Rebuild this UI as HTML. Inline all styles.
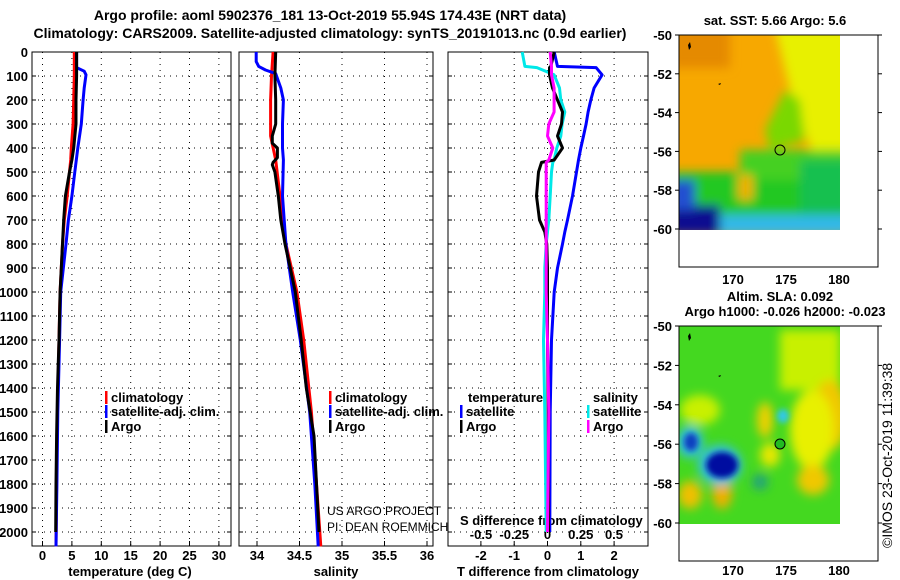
<!DOCTYPE html>
<html><head><meta charset="utf-8">
<style>
html,body{margin:0;padding:0;background:#fff;}
svg{display:block;font-family:"Liberation Sans",sans-serif;}
.b{font-weight:bold;font-size:13px;}
</style></head>
<body>
<svg id="chart" width="900" height="580" viewBox="0 0 900 580" xmlns="http://www.w3.org/2000/svg">
<defs>
<filter id="bl" x="-20%" y="-20%" width="140%" height="140%"><feGaussianBlur stdDeviation="5"/></filter>
<filter id="bl2" x="-20%" y="-20%" width="140%" height="140%"><feGaussianBlur stdDeviation="3"/></filter>
<clipPath id="c1"><rect x="679" y="35" width="161" height="195"/></clipPath>
<clipPath id="c2"><rect x="679" y="326" width="161" height="198"/></clipPath>
</defs>
<text class="b" x="330" y="20" text-anchor="middle" style="font-size:14px">Argo profile: aoml 5902376_181 13-Oct-2019 55.94S 174.43E (NRT data)</text>
<text class="b" x="330" y="38" text-anchor="middle" style="font-size:14px">Climatology: CARS2009. Satellite-adjusted climatology: synTS_20191013.nc (0.9d earlier)</text>
<g id="panels"></g>

<g>
<text class="b" x="775" y="25" text-anchor="middle">sat. SST: 5.66 Argo: 5.6</text>
<g clip-path="url(#c1)">
<rect x="679" y="35" width="161" height="195" fill="#f7a800"/>
<g filter="url(#bl)">
<rect x="670" y="28" width="60" height="40" fill="#e58a00"/>
<polygon points="775,28 850,28 850,165 815,160 800,120 790,90" fill="#e8f000"/>
<polygon points="785,90 800,100 805,140 770,150 765,130" fill="#7ad800"/>
<rect x="670" y="172" width="180" height="50" fill="#22c822"/>
<rect x="740" y="150" width="110" height="30" fill="#44d020"/>
<rect x="800" y="160" width="50" height="60" fill="#18c050"/>
<rect x="670" y="205" width="50" height="30" fill="#101090"/>
<rect x="720" y="215" width="130" height="20" fill="#30b8e8"/>
<rect x="670" y="180" width="25" height="30" fill="#2050d0"/>
<rect x="738" y="175" width="15" height="25" fill="#f0b000"/>
</g>
</g>
<rect x="679" y="35" width="199" height="232" fill="none" stroke="#000"/>
<circle cx="780" cy="150" r="5" fill="none" stroke="#000"/>
<path d="M688,45 l2,-3 l1,5 l-2,3z M718,84 l3,-1 l-1,2z" fill="#000"/>
</g>

<g>
<text class="b" x="780" y="301" text-anchor="middle">Altim. SLA: 0.092</text>
<text class="b" x="785" y="316" text-anchor="middle">Argo h1000: -0.026 h2000: -0.023</text>
<g clip-path="url(#c2)">
<rect x="679" y="326" width="161" height="198" fill="#44d820"/>
<g filter="url(#bl)">
<rect x="780" y="330" width="60" height="60" fill="#c8f000"/>
<ellipse cx="830" cy="415" rx="18" ry="35" fill="#f0c800"/>
<ellipse cx="812" cy="430" rx="22" ry="40" fill="#e8f000"/>
<ellipse cx="765" cy="420" rx="8" ry="18" fill="#f0d000"/>
<ellipse cx="770" cy="455" rx="10" ry="12" fill="#e8e800"/>
<ellipse cx="700" cy="410" rx="20" ry="15" fill="#c8f000"/>
<ellipse cx="690" cy="495" rx="12" ry="14" fill="#f0c000"/>
<ellipse cx="722" cy="493" rx="10" ry="16" fill="#f0b000"/>
<ellipse cx="813" cy="480" rx="16" ry="15" fill="#f0c800"/>
<ellipse cx="720" cy="465" rx="22" ry="20" fill="#30c0e0"/>
<ellipse cx="690" cy="442" rx="13" ry="16" fill="#30c0e0"/>
<ellipse cx="760" cy="482" rx="8" ry="8" fill="#20a080"/>
</g>
<g filter="url(#bl2)">
<ellipse cx="722" cy="465" rx="16" ry="13" fill="#0010a0"/>
<ellipse cx="691" cy="442" rx="7" ry="9" fill="#1040c0"/>
<ellipse cx="783" cy="416" rx="6" ry="7" fill="#30c8e8"/>
</g>
</g>
<rect x="679" y="326" width="199" height="235" fill="none" stroke="#000"/>
<circle cx="780" cy="444" r="5" fill="#22bb22" stroke="#000"/>
<path d="M688,336 l2,-3 l1,5 l-2,3z M718,376 l3,-1 l-1,2z" fill="#000"/>
</g>
<text x="892" y="548" transform="rotate(-90 892 548)" font-size="14">©IMOS 23-Oct-2019 11:39:38</text>
<g id="mapaxes"></g>
</svg>

<script>
// ---- data ----
const depthTicks=[0,100,200,300,400,500,600,700,800,900,1000,1100,1200,1300,1400,1500,1600,1700,1800,1900,2000];
const tTicks=[0,5,10,15,20,25,30];
const sTicks=[34,34.5,35,35.5,36];
const tdTicks=[-2,-1,0,1,2];
const sdTicks=[-0.5,-0.25,0,0.25,0.5];
const sdTickLabels=["-0.5","-0.25","0","0.25","0.5"];

const argoTdepth=[0,100,200,300,400,450,500,600,700,800,1000,1200,1400,1600,1800,2000];
const argoT=[5.8,5.8,5.7,5.7,5.3,5.0,4.6,3.9,3.6,3.4,3.0,2.8,2.55,2.4,2.3,2.25];
const climTdepth=[0,100,200,300,400,450,500,600,700,800,1000,1200,1500,1800,2060];
const climT=[5.4,5.4,5.3,5.2,4.9,4.8,4.6,4.2,3.7,3.4,3.0,2.8,2.55,2.4,2.3];
const satTdepth=[0,65,80,95,150,200,300,400,500,600,700,800,1000,1200,1500,1800,2060];
const satT=[5.8,5.8,7.1,7.4,7.1,6.9,6.6,6.0,5.5,5.0,4.4,4.0,3.1,2.9,2.6,2.45,2.3];

const argoSdepth=[0,100,200,300,350,380,400,440,460,470,500,600,700,800,900,1000,1200,1400,1600,1800,2000];
const argoS=[34.22,34.21,34.22,34.22,34.18,34.18,34.24,34.24,34.19,34.18,34.21,34.25,34.28,34.33,34.39,34.45,34.52,34.58,34.67,34.7,34.73];
const climSdepth=[0,100,200,300,350,450,600,800,1000,1200,1500,1800,2060];
const climS=[34.19,34.17,34.16,34.16,34.16,34.22,34.27,34.34,34.47,34.55,34.64,34.7,34.75];
const satSdepth=[0,40,60,75,90,150,200,300,400,450,600,700,800,1000,1200,1500,1800,2060];
const satS=[33.99,33.99,34.02,34.1,34.22,34.28,34.31,34.3,34.3,34.31,34.3,34.32,34.34,34.42,34.51,34.62,34.68,34.72];

const diffDepth=[0,60,65,95,150,200,250,300,350,400,450,460,500,600,700,750,800,900,1000,1200,1500,2000];
const argoTdiff=[0.2,0.1,0.06,0.06,0.15,0.3,0.45,0.42,0.3,0.45,0.2,-0.18,-0.27,-0.33,-0.24,-0.08,-0.02,0,0,0,0.02,0.03];
const satTdiff=[0.2,0.3,1.46,1.64,1.4,1.3,1.22,1.16,1.08,1.0,0.93,0.92,0.87,0.75,0.6,0.52,0.45,0.3,0.2,0.12,0.08,0.07];
const satSdiff=[-0.19,-0.17,-0.08,0.05,0.09,0.1,0.13,0.11,0.1,0.07,0.05,0.04,0.03,0.02,0.01,0,-0.01,-0.02,-0.02,-0.03,-0.02,-0.01];
const argoSdiff=[0.02,0.03,0.03,0.03,0.05,0.05,0.05,0.01,0,0.04,0.01,-0.01,-0.01,-0.01,-0.01,-0.01,-0.01,-0.01,-0.01,0,0.01,0];

const latTicks=[-50,-52,-54,-56,-58,-60];
const lonTicks=[170,175,180];

// ---- axes ----
const NS="http://www.w3.org/2000/svg";
const yD=d=>52+d*0.24;
const xT=v=>42.5+v*5.88;
const xS=v=>257+(v-34)*85;
const xTD=v=>547.5+v*33.3;
const xSD=v=>547.5+v*133;
const P=document.getElementById('panels');
function mk(tag,attrs,parent){const e=document.createElementNS(NS,tag);for(const k in attrs)e.setAttribute(k,attrs[k]);(parent||P).appendChild(e);return e;}

const panels=[
 {l:32,r:231,ticks:tTicks,fx:xT,title:"temperature (deg C)",name:"temperature-panel",tx:130},
 {l:239,r:433,ticks:sTicks,fx:xS,title:"salinity",name:"salinity-panel",tx:336},
 {l:448,r:648,ticks:tdTicks,fx:xTD,title:"T difference from climatology",name:"difference-panel",tx:548}
];
panels.forEach((p,i)=>{
  const g=mk('g',{});
  
  
  depthTicks.forEach(d=>{
    const l=mk('line',{x1:p.l,x2:p.r,y1:yD(d),y2:yD(d),stroke:'#000','stroke-dasharray':'1 5'},g);
    
    
    mk('line',{x1:p.l,x2:p.l+4,y1:yD(d),y2:yD(d),stroke:'#000'},g);
    mk('line',{x1:p.r,x2:p.r-4,y1:yD(d),y2:yD(d),stroke:'#000'},g);
  });
  p.ticks.forEach((t,j)=>{
    const x=p.fx(t);
    const l=mk('line',{x1:x,x2:x,y1:52,y2:546,stroke:'#000','stroke-dasharray':'1 5'},g);
    
    
    mk('line',{x1:x,x2:x,y1:546,y2:541,stroke:'#000'},g);
    const tx=mk('text',{x:x,y:560,'text-anchor':'middle',class:'b'},g);
    tx.textContent=String(t);
    
    
  });
  mk('rect',{x:p.l,y:52,width:p.r-p.l,height:494,fill:'none',stroke:'#000'},g);
  const at=mk('text',{x:p.tx,y:576,'text-anchor':'middle',class:'b'},g);
  at.textContent=p.title;
  
  
});
depthTicks.forEach(d=>{
  const t=mk('text',{x:28,y:yD(d)+5,'text-anchor':'end',class:'b'});
  t.textContent=String(d);
  
  
});
sdTicks.forEach((s,i)=>{
  const t=mk('text',{x:xSD(s),y:539,'text-anchor':'middle',class:'b'});
  t.textContent=sdTickLabels[i];
  
  
});
{const t=mk('text',{x:460,y:525,class:'b'});t.textContent="S difference from climatology";

}

function line(depths,vals,fx,color,w,name){
  const pts=depths.map((d,i)=>fx(vals[i]).toFixed(1)+','+yD(d).toFixed(1));
  const pl=mk('polyline',{points:pts.join(' '),fill:'none',stroke:color,'stroke-width':w,'stroke-linejoin':'round'});
  
  
}
line(climTdepth,climT,xT,'#ff0000',3,'temperature-climatology-line');
line(satTdepth,satT,xT,'#0000ff',3,'temperature-satellite-line');
line(argoTdepth,argoT,xT,'#000000',3,'temperature-argo-line');
line(climSdepth,climS,xS,'#ff0000',3,'salinity-climatology-line');
line(satSdepth,satS,xS,'#0000ff',3,'salinity-satellite-line');
line(argoSdepth,argoS,xS,'#000000',3,'salinity-argo-line');
line(diffDepth,satTdiff,xTD,'#0000ff',3,'t-diff-satellite-line');
line(diffDepth,satSdiff,xSD,'#00e8e8',3,'s-diff-satellite-line');
line(diffDepth,argoTdiff,xTD,'#000000',3,'t-diff-argo-line');
line(diffDepth,argoSdiff,xSD,'#ff00ff',3,'s-diff-argo-line');

function legend(x,y,color,label,name){
  const g=mk('g',{});
  
  
  if(color) mk('rect',{x:x,y:y-11,width:2.5,height:13,fill:color},g);
  const t=mk('text',{x:x+6,y:y,class:'b'},g);t.textContent=label;
}
legend(105,402,'#ff0000','climatology','legend-temp-climatology');
legend(105,416,'#0000ff','satellite-adj. clim.','legend-temp-satellite');
legend(105,431,'#000000','Argo','legend-temp-argo');
legend(329,402,'#ff0000','climatology','legend-sal-climatology');
legend(329,416,'#0000ff','satellite-adj. clim.','legend-sal-satellite');
legend(329,431,'#000000','Argo','legend-sal-argo');
legend(462,402,null,'temperature','legend-temperature-header');
legend(460,416,'#0000ff','satellite','legend-tdiff-satellite');
legend(460,431,'#000000','Argo','legend-tdiff-argo');
legend(587,402,null,'salinity','legend-salinity-header');
legend(587,416,'#00e8e8','satellite','legend-sdiff-satellite');
legend(587,431,'#ff00ff','Argo','legend-sdiff-argo');
{const t=mk('text',{x:327,y:515,'font-size':'12'});t.textContent="US ARGO PROJECT";

const t2=mk('text',{x:327,y:531,'font-size':'12'});t2.textContent="PI: DEAN ROEMMICH";
}

const M=document.getElementById('mapaxes');
[{top:35,bot:229,lab:284},{top:326,bot:523,lab:575}].forEach(m=>{
  latTicks.forEach(lat=>{
    const y=m.top+(-50-lat)/10*(m.bot-m.top);
    mk('line',{x1:675,x2:679,y1:y,y2:y,stroke:'#000'},M);
    mk('line',{x1:878,x2:882,y1:y,y2:y,stroke:'#000'},M);
    const t=mk('text',{x:672,y:y+5,'text-anchor':'end',class:'b'},M);
    t.textContent=String(lat);
    
    
  });
  lonTicks.forEach(lon=>{
    const x=733+(lon-170)*10.6;
    const t=mk('text',{x:x,y:m.lab,'text-anchor':'middle',class:'b'},M);
    t.textContent=String(lon);
    
    
  });
});
</script>
</body></html>
